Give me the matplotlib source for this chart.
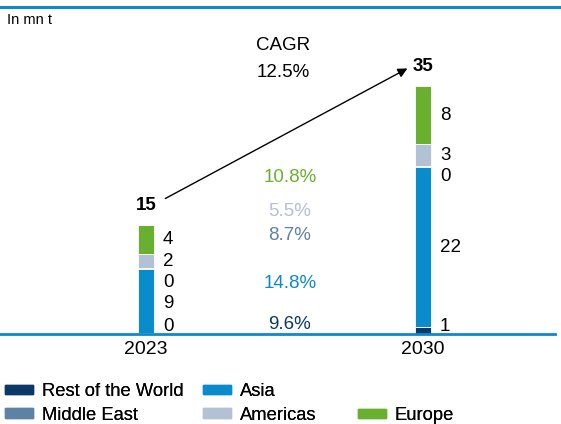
import numpy as np
import matplotlib
matplotlib.use("Agg")
import matplotlib.pyplot as plt
from matplotlib.patches import Patch

plt.rcParams['font.family'] = ['Liberation Sans', 'DejaVu Sans']

# data (mn t), bottom to top
years = ["2023", "2030"]
regions = ["Rest of the World", "Asia", "Middle East", "Americas", "Europe"]
vals_2023 = [0.1, 9.1, 0.1, 2.0, 4.1]
vals_2030 = [1.0, 22.6, 0.2, 3.1, 8.2]
labels_2023 = ["0", "9", "0", "2", "4"]
labels_2030 = ["1", "22", "0", "3", "8"]
totals = ["15", "35"]
cagr = ["9.6%", "14.8%", "8.7%", "5.5%", "10.8%"]
cagr_total = "12.5%"

colors = ["#0b3866", "#0a8bcc", "#5e81a6", "#b2c1d3", "#6ab02f"]
blue = "#0a8bcc"
# where the CAGR column sits (axis units), layout only
cagr_label_y = [1.4, 7.2, 13.9, 17.3, 22.1]

fig = plt.figure(figsize=(5.61, 4.24), dpi=100)
ax = fig.add_axes([0, 90 / 424, 555 / 561, 303.6 / 424])
ax.set_xlim(-0.527, 1.477)
ax.set_ylim(0, 43)

data = np.array([vals_2023, vals_2030])
x = np.arange(len(years))
bottoms = np.zeros(len(years))
for i, reg in enumerate(regions):
    ax.bar(x, data[:, i], 0.058, bottom=bottoms, color=colors[i],
           edgecolor="white", linewidth=0.6, label=reg)
    bottoms += data[:, i]

# value labels to the right of the bars, pushed apart top-down
gap = 3.0
for b, labs in enumerate([labels_2023, labels_2030]):
    cum = np.cumsum(data[b])
    centers = cum - data[b] / 2
    prev = None
    for i in range(len(regions) - 1, -1, -1):
        y = centers[i] if prev is None else min(centers[i], prev - gap)
        y = max(y, 1.1)
        prev = y
        ax.text(x[b] + 0.062, y, labs[i], fontsize=13.5, va="center", ha="left")
    ax.text(x[b], cum[-1] + 2.8, totals[b], fontsize=13.5, fontweight="bold",
            ha="center", va="center")

# CAGR column
for i in range(len(regions)):
    ax.text(0.52, cagr_label_y[i], cagr[i], color=colors[i], fontsize=13.5,
            ha="center", va="center")

ax.text(0.495, 40.8, "CAGR", fontsize=13.5, ha="center", va="center")
ax.text(0.495, 37.0, cagr_total, fontsize=13.5, ha="center", va="center")
t0, t1 = data.sum(axis=1)
ax.annotate("", xy=(0.953, t1 + 2.7), xytext=(0.061, t0 + 3.6),
            arrowprops=dict(arrowstyle="-|>", color="black", lw=1, mutation_scale=14))

ax.set_xticks(x)
ax.set_xticklabels(years, fontsize=14)
ax.tick_params(axis="x", length=0, pad=5)
ax.set_yticks([])
for s in ["top", "left", "right"]:
    ax.spines[s].set_visible(False)
ax.spines["bottom"].set_color(blue)
ax.spines["bottom"].set_linewidth(2)

# header line and unit
fig.add_artist(plt.Line2D([0, 1], [1 - 7 / 424, 1 - 7 / 424], color=blue, lw=2.2))
fig.text(7 / 561, 1 - 20 / 424, "In mn t", fontsize=10.5, va="center", ha="left")

# legend: three manual columns
legend_kw = dict(frameon=False, fontsize=13.2, handlelength=1.55, handleheight=0.45,
                 handletextpad=0.45, labelspacing=0.36, borderpad=0, borderaxespad=0)
cols = [([0, 2], 5), ([1, 3], 203), ([4], 358)]
for idx, xpx in cols:
    hs = [Patch(color=colors[k]) for k in idx]
    ls = [regions[k] for k in idx]
    ytop = 1 - 383 / 424 if len(idx) == 2 else 1 - 407 / 424
    leg = fig.legend(hs, ls, loc="upper left", bbox_to_anchor=(xpx / 561, ytop), **legend_kw)
    fig.add_artist(leg)

fig.savefig("out.png", dpi=100)
